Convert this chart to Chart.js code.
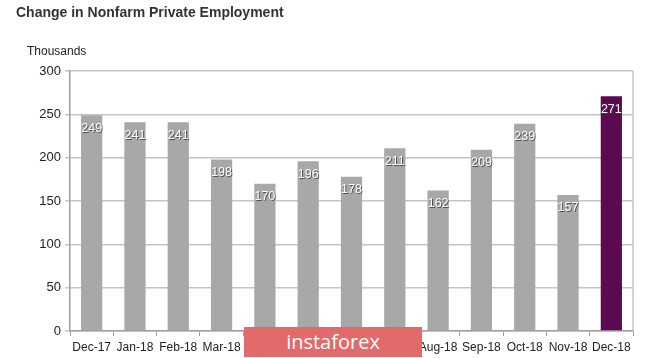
<!DOCTYPE html>
<html>
<head>
<meta charset="utf-8">
<script src="https://cdn.jsdelivr.net/npm/chart.js@4"></script>
<style>
  html, body { margin: 0; padding: 0; background: #fff; }
  #wrap { position: relative; width: 665px; height: 358px; font-family: "Liberation Sans", Arial, sans-serif; }
  #title { position: absolute; left: 16px; top: 4px; font-size: 14px; font-weight: bold; color: #333; }
  #unit { position: absolute; left: 27px; top: 44px; font-size: 12px; color: #222; }
  #mark { position: absolute; left: 244px; top: 327px; width: 178px; height: 30px; background: #e36a6c;
          color: #fff; font-size: 20px; line-height: 29px; text-align: center; font-family: "Open Sans", sans-serif; }
  canvas { position: absolute; left: 0; top: 0; }
</style>
</head>
<body>
<div id="wrap">
  <canvas id="c" width="665" height="358"></canvas>
  <div id="title">Change in Nonfarm Private Employment</div>
  <div id="unit">Thousands</div>
  <div id="mark">instaforex</div>
</div>
<script>
const months = ["Dec-17", "Jan-18", "Feb-18", "Mar-18", "Apr-18", "May-18", "Jun-18",
  "Jul-18", "Aug-18", "Sep-18", "Oct-18", "Nov-18", "Dec-18"];
const jobs = [249, 241, 241, 198, 170, 196, 178, 211, 162, 209, 239, 157, 271];
const yTicks = [0, 50, 100, 150, 200, 250, 300];

const grey = "#a8a8a8";
const purple = "#5b0a52";
const barColors = jobs.map((v, i) => (i === jobs.length - 1 ? purple : grey));

// numbers printed inside the top of each bar
const valueLabels = {
  id: "valueLabels",
  afterDatasetsDraw(chart) {
    const ctx = chart.ctx;
    const meta = chart.getDatasetMeta(0);
    ctx.save();
    ctx.font = "12.5px 'Liberation Sans', Arial, sans-serif";
    ctx.textAlign = "center";
    ctx.textBaseline = "middle";
    meta.data.forEach((bar, i) => {
      const y = bar.y + 13;
      ctx.fillStyle = "rgba(60,60,60,0.8)";
      ctx.fillText(String(jobs[i]), bar.x + 1, y + 1);
      ctx.fillStyle = "#fff";
      ctx.fillText(String(jobs[i]), bar.x, y);
    });
    ctx.restore();
  },
};

// right edge of the plot frame
const frame = {
  id: "frame",
  beforeDatasetsDraw(chart) {
    const { ctx, chartArea: a } = chart;
    ctx.save();
    ctx.strokeStyle = "#c4c4c4";
    ctx.lineWidth = 1.5;
    ctx.beginPath();
    ctx.moveTo(a.right, a.top);
    ctx.lineTo(a.right, a.bottom);
    ctx.stroke();
    ctx.restore();
  },
};

new Chart(document.getElementById("c"), {
  type: "bar",
  data: {
    labels: months,
    datasets: [{ data: jobs, backgroundColor: barColors, barPercentage: 0.49, categoryPercentage: 1 }],
  },
  options: {
    responsive: false,
    animation: false,
    layout: { padding: { top: 71, right: 32, left: 0, bottom: 0 } },
    plugins: { legend: { display: false }, tooltip: { enabled: false } },
    scales: {
      x: {
        afterFit(s) { s.height = 27; },
        grid: { offset: true, drawOnChartArea: false, tickLength: 5, color: "#a0a0a0" },
        border: { color: "#a0a0a0", width: 1.5 },
        ticks: { color: "#222", font: { size: 12, family: "'Liberation Sans', Arial, sans-serif" }, padding: 4, maxRotation: 0, autoSkip: false },
      },
      y: {
        min: 0,
        max: 300,
        afterFit(s) { s.width = 70; },
        afterBuildTicks(s) { s.ticks = yTicks.map((v) => ({ value: v })); },
        grid: { color: "#c4c4c4", lineWidth: 1.5, tickLength: 5 },
        border: { color: "#a0a0a0", width: 1.5 },
        ticks: { color: "#222", font: { size: 13, family: "'Liberation Sans', Arial, sans-serif" }, padding: 4 },
      },
    },
  },
  plugins: [frame, valueLabels],
});
</script>
</body>
</html>
